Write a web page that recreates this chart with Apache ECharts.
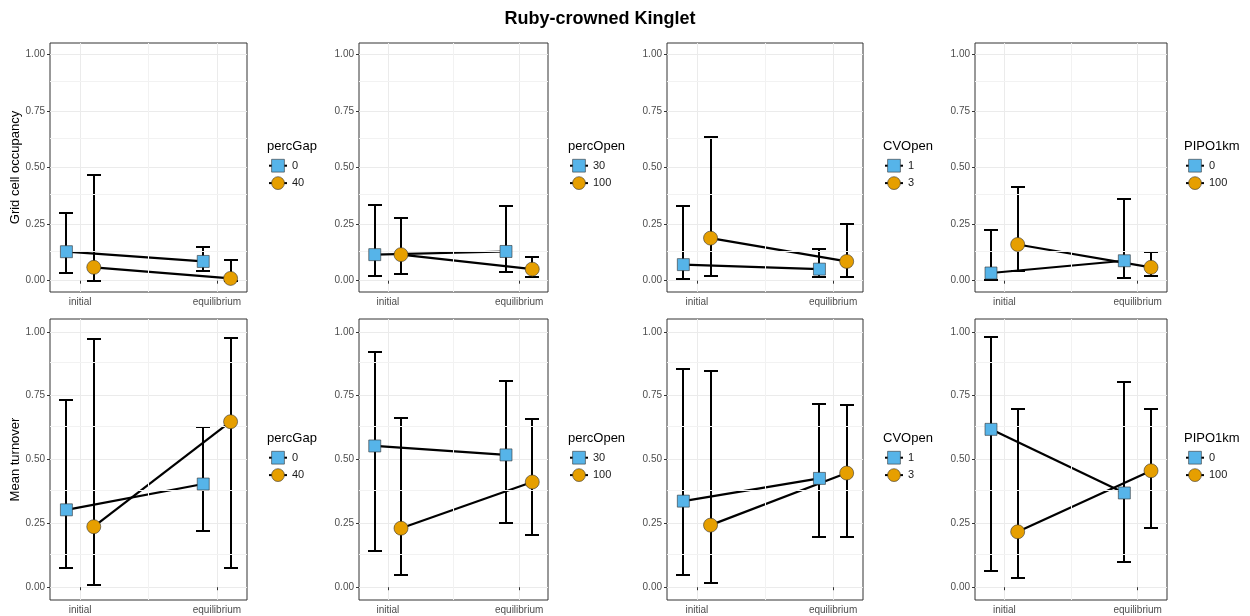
<!DOCTYPE html>
<html>
<head>
<meta charset="utf-8">
<script src="https://cdn.jsdelivr.net/npm/echarts@6/dist/echarts.min.js"></script>
<style>
  html, body { margin: 0; padding: 0; background: #fff; }
  #chart { width: 1250px; height: 616px; }
</style>
</head>
<body>
<div id="chart"></div>
<script>
(() => {

    const categories = ['initial', 'equilibrium'];
    const factorNames = ['percGap', 'percOpen', 'CVOpen', 'PIPO1km'];
    const factorLevels = [['0', '40'], ['30', '100'], ['1', '3'], ['0', '100']];
    const rowTitles = ['Grid cell occupancy', 'Mean turnover'];
    const yTicks = [0, 0.25, 0.5, 0.75, 1];

    // [panel][level][category]
    const occMean = [
        [[0.128, 0.085], [0.059, 0.010]],
        [[0.115, 0.129], [0.115, 0.051]],
        [[0.071, 0.051], [0.188, 0.085]],
        [[0.034, 0.088], [0.160, 0.059]]
    ];
    const occLow = [
        [[0.034, 0.041], [0.000, 0.000]],
        [[0.022, 0.040], [0.029, 0.018]],
        [[0.009, 0.015], [0.021, 0.018]],
        [[0.002, 0.010], [0.041, 0.021]]
    ];
    const occHigh = [
        [[0.300, 0.151], [0.466, 0.091]],
        [[0.335, 0.332], [0.275, 0.104]],
        [[0.328, 0.140], [0.634, 0.251]],
        [[0.222, 0.363], [0.416, 0.128]]
    ];
    const turnMean = [
        [[0.303, 0.404], [0.237, 0.648]],
        [[0.553, 0.518], [0.231, 0.412]],
        [[0.337, 0.426], [0.243, 0.447]],
        [[0.618, 0.369], [0.217, 0.456]]
    ];
    const turnLow = [
        [[0.077, 0.222], [0.007, 0.076]],
        [[0.140, 0.252], [0.047, 0.205]],
        [[0.046, 0.197], [0.018, 0.195]],
        [[0.063, 0.097], [0.037, 0.233]]
    ];
    const turnHigh = [
        [[0.732, 0.629], [0.971, 0.976]],
        [[0.919, 0.807], [0.664, 0.660]],
        [[0.855, 0.718], [0.847, 0.715]],
        [[0.978, 0.805], [0.699, 0.699]]
    ];

    const COLORS = ['#56B4E9', '#E69F00'];
    const SYMBOLS = ['rect', 'circle'];
    const SIZES = [12, 14];
    const DODGE = [-0.1, 0.1];
    const CAP = 0.05;
    const FONT = 'Liberation Sans, Arial, sans-serif';

    // plot panel boxes (pixels)
    const COLS = [[50, 197], [359, 189], [667, 196], [975, 192]];
    const ROWS = [[43, 249], [319, 281]];
    const LEGEND_X = [268, 569, 884, 1185];
    const LEGEND_TITLE_Y = [140, 432];
    const LEGEND_KEY_Y = [159, 451];

    const rowData = [
        {mean: occMean, low: occLow, high: occHigh},
        {mean: turnMean, low: turnLow, high: turnHigh}
    ];

    const minorY = yTicks.slice(1).map((t, i) => (t + yTicks[i]) / 2);

    let grids = [], xAxes = [], yAxes = [], series = [], legends = [];
    let titles = [{
        text: 'Ruby-crowned Kinglet',
        left: 600, top: 10, textAlign: 'center', padding: 0,
        textStyle: {fontSize: 18, fontWeight: 'bold', color: '#000', fontFamily: FONT}
    }];

    ROWS.forEach((row, r) => {
        COLS.forEach((col, c) => {
            const g = grids.length;
            grids.push({
                left: col[0], top: row[0], width: col[1], height: row[1],
                show: true, borderColor: '#333', borderWidth: 1, backgroundColor: '#fff'
            });
            xAxes.push({
                type: 'value', gridIndex: g, min: 0.78, max: 2.22,
                axisLine: {show: false},
                axisTick: {show: true, length: 3, customValues: [1, 2], lineStyle: {color: '#333'}},
                axisLabel: {
                    customValues: [1, 2], margin: 5, fontSize: 10, color: '#4D4D4D', fontFamily: FONT,
                    formatter: v => categories[Math.round(v) - 1]
                },
                splitLine: {show: true, lineStyle: {color: '#EBEBEB', width: 1}}
            });
            yAxes.push({
                type: 'value', gridIndex: g, min: -0.05, max: 1.05,
                name: c === 0 ? rowTitles[r] : '',
                nameLocation: 'middle', nameRotate: 90, nameGap: 27,
                nameTextStyle: {fontSize: 13, color: '#000', fontFamily: FONT},
                axisLine: {show: false},
                axisTick: {show: true, length: 3, customValues: yTicks, lineStyle: {color: '#333'}},
                axisLabel: {
                    customValues: yTicks, margin: 5, fontSize: 10, color: '#4D4D4D', fontFamily: FONT,
                    formatter: v => v.toFixed(2)
                },
                splitLine: {show: true, lineStyle: {color: '#EBEBEB', width: 1}}
            });

            // minor grid lines
            series.push({
                type: 'line', name: 'minor-' + g, xAxisIndex: g, yAxisIndex: g, data: [],
                z: 1, silent: true, animation: false,
                markLine: {
                    silent: true, symbol: ['none', 'none'], label: {show: false},
                    lineStyle: {color: '#F2F2F2', width: 1, type: 'solid'},
                    emphasis: {disabled: true}, animation: false,
                    data: [{xAxis: 1.5}].concat(minorY.map(v => ({yAxis: v})))
                }
            });

            const d = rowData[r];
            factorLevels[c].forEach((lvl, k) => {
                const pts = categories.map((cat, i) => [i + 1 + DODGE[k], d.mean[c][k][i]]);
                const bars = categories.map((cat, i) => [i + 1 + DODGE[k], d.low[c][k][i], d.high[c][k][i]]);

                // connecting line (also provides legend key)
                series.push({
                    type: 'line', name: lvl, xAxisIndex: g, yAxisIndex: g, data: pts,
                    showSymbol: false, symbol: SYMBOLS[k], symbolSize: SIZES[k],
                    itemStyle: {color: COLORS[k], borderColor: '#333', borderWidth: 0.6},
                    lineStyle: {color: '#000', width: 2.2},
                    z: 2, silent: true, animation: false
                });

                series.push({
                    type: 'custom', name: 'err-' + g + '-' + k, xAxisIndex: g, yAxisIndex: g, data: bars,
                    z: 3, silent: true, animation: false,
                    renderItem: (params, api) => {
                        const x = api.value(0);
                        const top = api.coord([x, api.value(2)]).map(Math.round);
                        const bot = api.coord([x, api.value(1)]).map(Math.round);
                        const hw = Math.round(api.size([CAP, 0])[0]);
                        const st = {stroke: '#000', lineWidth: 2};
                        return {
                            type: 'group',
                            children: [
                                {type: 'line', shape: {x1: top[0], y1: top[1], x2: bot[0], y2: bot[1]}, style: st},
                                {type: 'line', shape: {x1: top[0] - hw, y1: top[1], x2: top[0] + hw, y2: top[1]}, style: st},
                                {type: 'line', shape: {x1: bot[0] - hw, y1: bot[1], x2: bot[0] + hw, y2: bot[1]}, style: st}
                            ]
                        };
                    }
                });

                // points on their own layer so they sit above bars and lines
                series.push({
                    type: 'scatter', name: 'pt-' + g + '-' + k, xAxisIndex: g, yAxisIndex: g, data: pts,
                    symbol: SYMBOLS[k], symbolSize: SIZES[k],
                    itemStyle: {color: COLORS[k], borderColor: '#333', borderWidth: 0.6, opacity: 1},
                    zlevel: 1, z: 4, silent: true, animation: false
                });
            });

            // legend for this panel
            titles.push({
                text: factorNames[c], left: LEGEND_X[c] - 1, top: LEGEND_TITLE_Y[r], padding: 0,
                textStyle: {fontSize: 13, fontWeight: 'normal', color: '#000', fontFamily: FONT}
            });
            legends.push({
                data: factorLevels[c], orient: 'vertical', selectedMode: false,
                left: LEGEND_X[c], top: LEGEND_KEY_Y[r], padding: 0,
                itemWidth: 18, itemHeight: 16, itemGap: 4,
                itemStyle: {borderWidth: 0.6, borderColor: '#333'},
                textStyle: {fontSize: 11, color: '#1A1A1A', fontFamily: FONT}
            });
        });
    });

    const chart = echarts.init(document.getElementById('chart'), null, {renderer: 'canvas'});
    chart.setOption({
        animation: false,
        backgroundColor: '#fff',
        textStyle: {fontFamily: FONT},
        title: titles,
        legend: legends,
        grid: grids,
        xAxis: xAxes,
        yAxis: yAxes,
        series: series
    });
})();
</script>
</body>
</html>
